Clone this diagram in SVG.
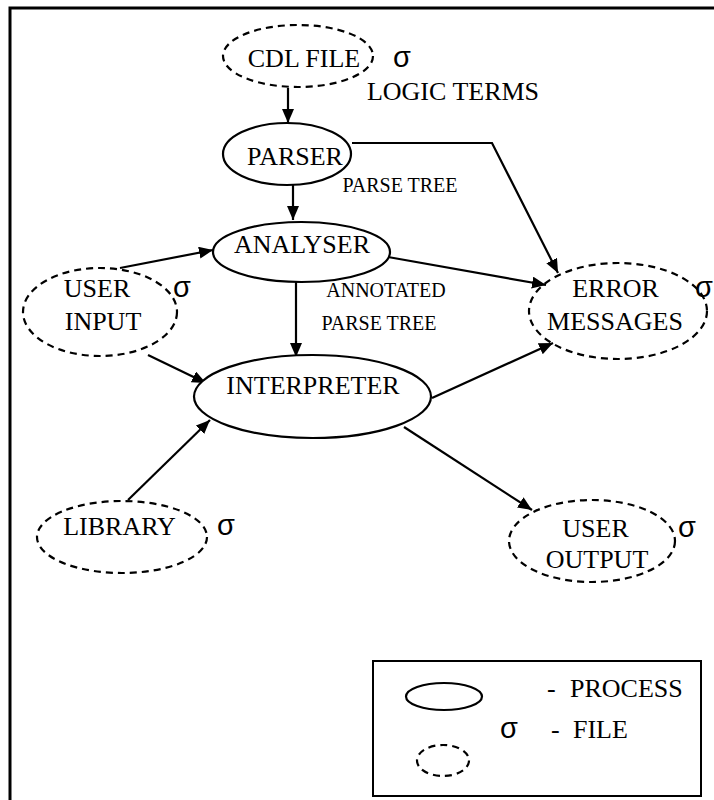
<svg xmlns="http://www.w3.org/2000/svg" width="714" height="800" viewBox="0 0 714 800">
<style>
.proc{fill:#fff;stroke:#000;stroke-width:2.2}
.file{fill:none;stroke:#000;stroke-width:2.2;stroke-dasharray:7 5}
.lbl{font-family:"Liberation Serif","Times New Roman",serif;font-size:26px;fill:#000}
.sm{font-family:"Liberation Serif","Times New Roman",serif;font-size:20px;fill:#000}
.sig{font-family:"Liberation Sans",Arial,sans-serif;font-size:29px;fill:#000}
.c{text-anchor:middle}
.edge{fill:none;stroke:#000;stroke-width:2.2;marker-end:url(#ah)}
</style>
<defs>
<marker id="ah" markerUnits="userSpaceOnUse" markerWidth="15" markerHeight="13" refX="14" refY="6" orient="auto">
<path d="M0,0 L14,6 L0,12 z" fill="#000"/>
</marker>
</defs>
<rect x="0" y="0" width="714" height="800" fill="#fff"/>
<rect x="10" y="8" width="730" height="820" fill="none" stroke="#000" stroke-width="3"/>

<g id="connectors">
<line class="edge" x1="288" y1="88" x2="288" y2="123"/>
<line class="edge" x1="293" y1="185" x2="293" y2="220"/>
<line class="edge" x1="120" y1="268" x2="213" y2="250"/>
<line class="edge" x1="296" y1="282" x2="296" y2="357"/>
<line class="edge" x1="148" y1="355" x2="206" y2="383"/>
<line class="edge" x1="128" y1="500" x2="210" y2="420"/>
<polyline class="edge" points="352,143 492,143 558,273"/>
<line class="edge" x1="388" y1="257" x2="546" y2="285"/>
<line class="edge" x1="432" y1="398" x2="553" y2="343"/>
<line class="edge" x1="404" y1="427" x2="532" y2="510"/>
</g>

<g id="cdl-file">
<ellipse class="file" cx="298" cy="56" rx="75" ry="31"/>
<text class="lbl c" x="304" y="67">CDL FILE</text>
<text class="sig" x="393" y="67">σ</text>
</g>
<text id="logic-terms" class="lbl c" x="453" y="100">LOGIC TERMS</text>

<g id="parser">
<ellipse class="proc" cx="287" cy="154" rx="64" ry="31"/>
<text class="lbl c" x="295" y="165">PARSER</text>
</g>
<text id="parse-tree" class="sm c" x="400" y="192">PARSE TREE</text>

<g id="analyser">
<ellipse class="proc" cx="301.5" cy="252" rx="88.5" ry="30"/>
<text class="lbl c" x="302" y="253">ANALYSER</text>
</g>

<g id="user-input">
<ellipse class="file" cx="100" cy="312" rx="77" ry="44"/>
<text class="lbl c" x="97" y="297">USER</text>
<text class="lbl c" x="103" y="330">INPUT</text>
<text class="sig" x="173" y="297">σ</text>
</g>

<g id="annotated-label">
<text class="sm c" x="386" y="297">ANNOTATED</text>
<text class="sm c" x="379" y="330">PARSE TREE</text>
</g>

<g id="error-messages">
<ellipse class="file" cx="618" cy="311" rx="89" ry="48"/>
<text class="lbl c" x="615.5" y="297">ERROR</text>
<text class="lbl c" x="615" y="330">MESSAGES</text>
<text class="sig" x="695" y="297">σ</text>
</g>

<g id="interpreter">
<ellipse class="proc" cx="312.5" cy="396.5" rx="118.5" ry="41.5"/>
<text class="lbl c" x="313" y="394">INTERPRETER</text>
</g>

<g id="library">
<ellipse class="file" cx="122" cy="537" rx="85" ry="36"/>
<text class="lbl c" x="119.5" y="535">LIBRARY</text>
<text class="sig" x="217" y="535">σ</text>
</g>

<g id="user-output">
<ellipse class="file" cx="592" cy="541" rx="83" ry="41"/>
<text class="lbl c" x="595.5" y="537">USER</text>
<text class="lbl c" x="597" y="568">OUTPUT</text>
<text class="sig" x="678" y="537">σ</text>
</g>

<g id="legend">
<rect x="373" y="661" width="328" height="135" fill="none" stroke="#000" stroke-width="2"/>
<ellipse class="proc" cx="444" cy="696.5" rx="38" ry="13.5"/>
<text class="lbl" x="547" y="697">-</text>
<text class="lbl" x="570" y="697">PROCESS</text>
<text class="sig" x="500" y="738">σ</text>
<text class="lbl" x="551" y="738">-</text>
<text class="lbl" x="573" y="738">FILE</text>
<ellipse class="file" cx="443" cy="760.5" rx="26" ry="15.5"/>
</g>
</svg>
